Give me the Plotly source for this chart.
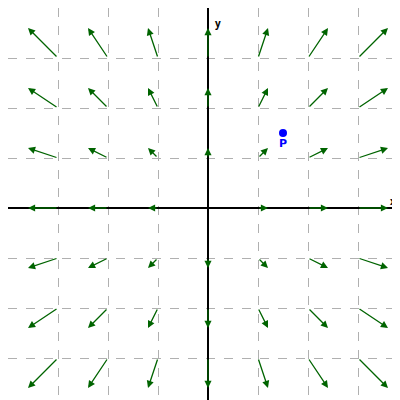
import plotly.graph_objects as go

# grid of points where vectors are drawn, field F(x, y) = k * (x, y)
xs = [-3, -2, -1, 0, 1, 2, 3]
ys = [-3, -2, -1, 0, 1, 2, 3]
k = 0.2
point_p = (1.5, 1.5)

fig = go.Figure()

annotations = []
for x in xs:
    for y in ys:
        u, v = k * x, k * y
        if u == 0 and v == 0:
            continue
        annotations.append(dict(
            x=x + u, y=y + v, ax=x, ay=y,
            xref='x', yref='y', axref='x', ayref='y',
            text='', showarrow=True, arrowhead=2, arrowsize=1.1,
            arrowwidth=1.3, arrowcolor='#006400',
        ))

fig.add_trace(go.Scatter(
    x=[point_p[0]], y=[point_p[1]], mode='markers+text',
    marker=dict(color='blue', size=8),
    text=['<b>P</b>'], textposition='bottom center',
    textfont=dict(color='blue', size=11, family='DejaVu Sans'),
    showlegend=False, hoverinfo='skip', cliponaxis=False,
))

annotations += [
    dict(x=3.7, y=0.15, text='<b>x</b>', showarrow=False, xref='x', yref='y',
         font=dict(size=10, color='black')),
    dict(x=0.2, y=3.7, text='<b>y</b>', showarrow=False, xref='x', yref='y',
         font=dict(size=10, color='black')),
]

axis_style = dict(
    range=[-4, 4], dtick=1, showticklabels=False, ticks='',
    showgrid=True, gridcolor='#b0b0b0', griddash='dash', gridwidth=1,
    zeroline=True, zerolinecolor='black', zerolinewidth=1.5,
    showline=True, linecolor='black', linewidth=1, mirror=True,
    fixedrange=True, automargin=False,
)

fig.update_layout(
    width=400, height=400,
    margin=dict(l=0, r=0, t=0, b=0, pad=0, autoexpand=False),
    plot_bgcolor='white', paper_bgcolor='white',
    xaxis=axis_style, yaxis=axis_style,
    annotations=annotations,
    showlegend=False,
)

fig.write_html("out.html")
